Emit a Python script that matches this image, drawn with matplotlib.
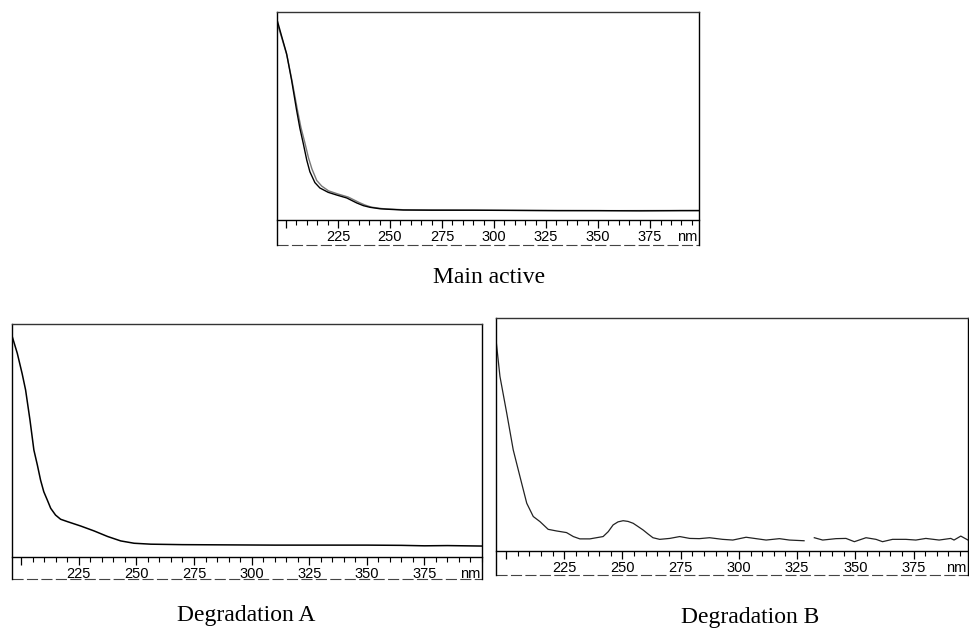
import numpy as np
import matplotlib
matplotlib.use("Agg")
import matplotlib.pyplot as plt
from matplotlib.ticker import MultipleLocator, FixedLocator, FixedFormatter

# ---------------- data (wavelength nm, relative absorbance) ----------------
main_wl = [196, 198, 200.3, 202.7, 205.1, 206.7, 208.3, 210, 211.5, 213.9, 216.3, 220.3,
           224.4, 229.2, 234, 237.2, 240.4, 245.2, 248.4, 256.3, 270, 290, 310, 330,
           350, 370, 390, 398.5]
main_abs = [0.953, 0.881, 0.80, 0.673, 0.529, 0.441, 0.369, 0.288, 0.232, 0.180, 0.154,
            0.133, 0.12, 0.106, 0.082, 0.069, 0.061, 0.054, 0.052, 0.048, 0.047, 0.047,
            0.046, 0.045, 0.045, 0.044, 0.045, 0.045]

main2_wl = [196, 198, 200.5, 203, 205.5, 207.2, 209, 210.8, 212.5, 214.8, 217.2, 220.5,
            225, 230, 235, 238, 241, 246, 249, 257, 280, 320, 360, 398.5]
main2_abs = [0.94, 0.875, 0.79, 0.665, 0.53, 0.445, 0.375, 0.30, 0.245, 0.19, 0.163,
             0.14, 0.125, 0.11, 0.085, 0.072, 0.062, 0.055, 0.053, 0.049, 0.048, 0.046,
             0.045, 0.046]

degA_wl = [196.1, 198.3, 200.4, 201.9, 203.8, 205.5, 207, 208.4, 209.8, 211.3, 212.8,
           214.9, 217.1, 220, 225.8, 231.6, 237.5, 243.2, 249, 256.3, 270, 290, 310, 330,
           350, 365, 375, 385, 400]
degA_abs = [0.946, 0.874, 0.787, 0.717, 0.588, 0.459, 0.395, 0.330, 0.280, 0.245, 0.209,
            0.180, 0.162, 0.152, 0.133, 0.112, 0.088, 0.069, 0.059, 0.055, 0.053, 0.052,
            0.051, 0.051, 0.051, 0.050, 0.048, 0.049, 0.047]

degB_wl = [195.7, 197.4, 200.3, 203.1, 206, 208.9, 211.7, 214.6, 218.1, 221.7, 226, 228.9,
           231.7, 236, 241.7, 243.9, 246, 248.1, 250.3, 252.4, 254.6, 256.7, 258.9, 261,
           263.1, 266, 270.3, 274.6, 278.9, 283, 287.4, 293, 297.4, 303.1, 307.4, 311.7,
           317.4, 321.7, 328, 330.2, 332.4, 336, 341.7, 346, 349.6, 354.6, 358.9, 361.7,
           366, 371.7, 376, 380.3, 386, 391, 392.4, 395.3, 398.4]
degB_abs = [0.907, 0.749, 0.592, 0.434, 0.319, 0.205, 0.148, 0.126, 0.093, 0.086, 0.079,
            0.062, 0.052, 0.052, 0.062, 0.083, 0.112, 0.125, 0.130, 0.127, 0.119, 0.105,
            0.090, 0.073, 0.057, 0.050, 0.054, 0.062, 0.054, 0.053, 0.057, 0.050, 0.047,
            0.059, 0.053, 0.047, 0.053, 0.047, 0.044, np.nan, 0.057, 0.047, 0.053, 0.054,
            0.040, 0.057, 0.050, 0.040, 0.050, 0.050, 0.047, 0.054, 0.047, 0.054, 0.047,
            0.064, 0.047]

major_ticks = [200, 225, 250, 275, 300, 325, 350, 375]
major_labels = ["", "225", "250", "275", "300", "325", "350", "375"]
captions = ["Main active", "Degradation A", "Degradation B"]

# ---------------- figure ----------------
W, H = 970, 629
fig = plt.figure(figsize=(W / 100, H / 100), dpi=100)


def make_panel(left, right, top, axis_y, bottom, xlim):
    ax = fig.add_axes([left / W, 1 - bottom / H, (right - left) / W, (bottom - top) / H])
    ax.set_xlim(*xlim)
    ax.set_ylim(-(bottom - axis_y) / (axis_y - top), 1.0)
    for s in ax.spines.values():
        s.set_linewidth(1.0)
        s.set_color("black")
    ax.spines["bottom"].set_position(("data", 0))
    ax.spines["top"].set_color("#333333")
    ax.xaxis.set_major_locator(FixedLocator(major_ticks))
    ax.xaxis.set_major_formatter(FixedFormatter(major_labels))
    ax.xaxis.set_minor_locator(MultipleLocator(5))
    ax.tick_params(axis="x", which="major", direction="out", length=5.5, width=0.9,
                   pad=2, labelsize=10.5, labelfontfamily="Liberation Sans")
    ax.tick_params(axis="x", which="minor", direction="out", length=3.3, width=0.8)
    ax.set_yticks([])
    ax.annotate("nm", xy=(1, 0), xycoords=("axes fraction", "data"),
                xytext=(-1, -7.5), textcoords="offset points", ha="right", va="top",
                fontsize=10.5, family="Liberation Sans")
    # lower frame line (broken in the scanned original)
    ax.plot([0, 1], [0, 0], transform=ax.transAxes, color="#444444", lw=0.8,
            ls=(0, (10, 3)), clip_on=False)
    return ax


ax1 = make_panel(277, 699, 12, 220, 245, (195.7, 398.5))
ax1.plot(main2_wl, main2_abs, color="#777777", lw=1.0)
ax1.plot(main_wl, main_abs, color="black", lw=1.0)

ax2 = make_panel(12, 482, 324, 557, 579, (196, 400))
ax2.plot(degA_wl, degA_abs, color="black", lw=1.1)

ax3 = make_panel(496, 968, 318, 551, 575, (195.7, 398.4))
ax3.plot(degB_wl, degB_abs, color="#222222", lw=0.9)

cap_font = dict(fontsize=17, family="Liberation Serif", ha="center", va="baseline")
fig.text(489 / W, 1 - 283 / H, captions[0], **cap_font)
fig.text(246 / W, 1 - 621 / H, captions[1], **cap_font)
fig.text(750 / W, 1 - 623 / H, captions[2], **cap_font)

fig.savefig("out.png", dpi=100)
